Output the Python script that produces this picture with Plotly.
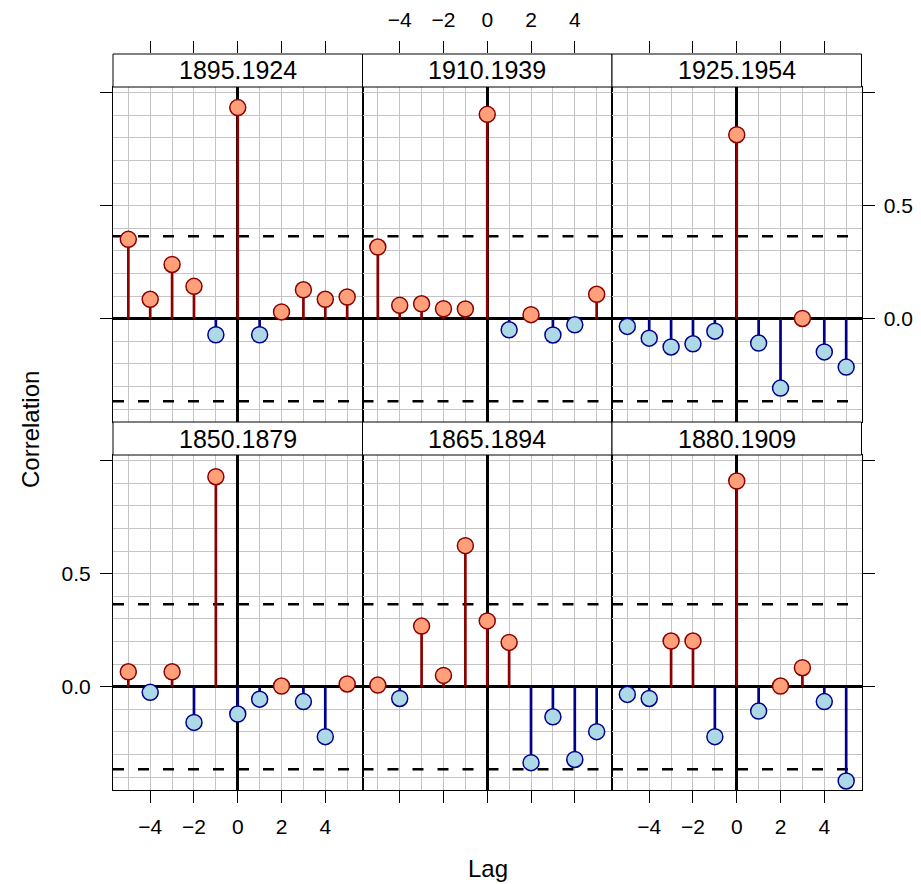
import plotly.graph_objects as go

# ---------------- data ----------------
lags = [-5, -4, -3, -2, -1, 0, 1, 2, 3, 4, 5]

panel_names = ["1850.1879", "1865.1894", "1880.1909",
               "1895.1924", "1910.1939", "1925.1954"]

acf_1850_1879 = [0.066, -0.025, 0.066, -0.158, 0.929, -0.121, -0.055, 0.003, -0.066, -0.221, 0.012]
acf_1865_1894 = [0.007, -0.052, 0.268, 0.050, 0.624, 0.291, 0.196, -0.336, -0.133, -0.322, -0.199]
acf_1880_1909 = [-0.034, -0.052, 0.202, 0.202, -0.221, 0.910, -0.108, 0.003, 0.084, -0.066, -0.417]
acf_1895_1924 = [0.351, 0.086, 0.240, 0.143, -0.071, 0.934, -0.071, 0.030, 0.128, 0.086, 0.096]
acf_1910_1939 = [0.317, 0.059, 0.066, 0.044, 0.043, 0.904, -0.049, 0.018, -0.072, -0.027, 0.108]
acf_1925_1954 = [-0.034, -0.086, -0.125, -0.111, -0.055, 0.814, -0.108, -0.307, 0.001, -0.147, -0.214]

panel_values = [acf_1850_1879, acf_1865_1894, acf_1880_1909,
                acf_1895_1924, acf_1910_1939, acf_1925_1954]

conf_limit = 0.365

x_tick_vals = [-4, -2, 0, 2, 4]
x_tick_text = ["\u22124", "\u22122", "0", "2", "4"]
y_tick_vals = [0.0, 0.5, 1.0]
y_tick_text = ["0.0", "0.5", ""]

x_range = [-5.7, 5.7]
y_range = [-0.457, 1.025]

# ---------------- styling / layout ----------------
W, H = 921, 884
FONT = "Liberation Sans, Arial, Helvetica, sans-serif"
TICK_FONT = 21
STRIP_FONT = 25
TITLE_FONT = 24
GRID_COL = "#C4C4C4"
POS_LINE, POS_FILL = "#8B0000", "#FFA07A"
NEG_LINE, NEG_FILL = "#00008B", "#ADD8E6"

col_px = [(113, 362.5), (362.5, 612), (612, 861.5)]
row_px = [(455, 790), (87, 422)]          # (top px, bottom px): bottom row, top row
strip_px = [(422, 455), (54, 87)]         # (top px, bottom px)


def px_x(v):
    return v / W


def px_y(v):
    return 1 - v / H


fig = go.Figure()
layout_axes = {}

for i, (name, vals) in enumerate(zip(panel_names, panel_values)):
    row = i // 3  # 0 bottom, 1 top
    col = i % 3
    ax = i + 1
    xref = "x" if ax == 1 else f"x{ax}"
    yref = "y" if ax == 1 else f"y{ax}"

    # dashed confidence lines
    for c in (conf_limit, -conf_limit):
        fig.add_trace(go.Scatter(
            x=x_range, y=[c, c], mode="lines",
            line=dict(color="black", width=2.6, dash="11px,14px"),
            xaxis=xref, yaxis=yref, hoverinfo="skip"))

    # stems
    for sign, lc in ((1, POS_LINE), (-1, NEG_LINE)):
        sx, sy = [], []
        for l, v in zip(lags, vals):
            if (v >= 0) == (sign == 1):
                sx += [l, l, None]
                sy += [0, v, None]
        fig.add_trace(go.Scatter(
            x=sx, y=sy, mode="lines",
            line=dict(color=lc, width=2.7),
            xaxis=xref, yaxis=yref, hoverinfo="skip"))

    # points
    fills = [POS_FILL if v >= 0 else NEG_FILL for v in vals]
    lines = [POS_LINE if v >= 0 else NEG_LINE for v in vals]
    fig.add_trace(go.Scatter(
        x=lags, y=vals, mode="markers",
        marker=dict(size=16, color=fills, line=dict(color=lines, width=1.5)),
        xaxis=xref, yaxis=yref))

    x0, x1 = col_px[col]
    y_top, y_bot = row_px[row]

    xa = dict(
        domain=[px_x(x0), px_x(x1)], range=x_range, anchor=yref,
        showline=True, mirror=True, linecolor="black", linewidth=1,
        tickmode="array", tickvals=x_tick_vals, ticktext=x_tick_text,
        ticks="outside" if row == 0 else "", ticklen=12, tickwidth=1, tickcolor="black",
        side="bottom",
        showticklabels=(row == 0 and col != 1),
        tickfont=dict(family=FONT, size=TICK_FONT, color="black"),
        ticklabelstandoff=6,
        showgrid=True, gridcolor=GRID_COL, gridwidth=1,
        minor=dict(tickmode="linear", tick0=0, dtick=1, showgrid=True,
                   gridcolor=GRID_COL, gridwidth=1, ticks=""),
        zeroline=True, zerolinecolor="black", zerolinewidth=2.5,
        fixedrange=True,
    )
    if col == 0:
        yside, yticks, ylabels = "left", "outside", (row == 0)
    elif col == 2:
        yside, yticks, ylabels = "right", "outside", (row == 1)
    else:
        yside, yticks, ylabels = "left", "", False
    ya = dict(
        domain=[px_y(y_bot), px_y(y_top)], range=y_range, anchor=xref,
        showline=True, mirror=True, linecolor="black", linewidth=1,
        tickmode="array", tickvals=y_tick_vals, ticktext=y_tick_text,
        ticks=yticks, ticklen=12, tickwidth=1, tickcolor="black",
        side=yside, showticklabels=ylabels,
        tickfont=dict(family=FONT, size=TICK_FONT, color="black"),
        ticklabelstandoff=5,
        showgrid=True, gridcolor=GRID_COL, gridwidth=1,
        minor=dict(tickmode="linear", tick0=0, dtick=0.1, showgrid=True,
                   gridcolor=GRID_COL, gridwidth=1, ticks=""),
        zeroline=True, zerolinecolor="black", zerolinewidth=2.5,
        fixedrange=True,
    )
    xkey = "xaxis" if ax == 1 else f"xaxis{ax}"
    ykey = "yaxis" if ax == 1 else f"yaxis{ax}"
    layout_axes[xkey] = xa
    layout_axes[ykey] = ya

    # top-row tick axis: a thin helper subplot sitting right above the strip
    if row == 1:
        tax = ax + 3
        strip_top = strip_px[1][0]
        fig.add_trace(go.Scatter(x=[None], y=[None], mode="markers",
                                 xaxis=f"x{tax}", yaxis=f"y{tax}", hoverinfo="skip"))
        layout_axes[f"xaxis{tax}"] = dict(
            domain=[px_x(x0), px_x(x1)], range=x_range, anchor=f"y{tax}",
            side="top", showline=False, showgrid=False, zeroline=False,
            tickmode="array", tickvals=x_tick_vals, ticktext=x_tick_text,
            ticks="outside", ticklen=12, tickwidth=1, tickcolor="black",
            showticklabels=(col == 1),
            tickfont=dict(family=FONT, size=TICK_FONT, color="black"),
            ticklabelstandoff=6, fixedrange=True,
        )
        layout_axes[f"yaxis{tax}"] = dict(
            domain=[px_y(strip_top + 1), px_y(strip_top)], anchor=f"x{tax}",
            visible=False, showgrid=False, zeroline=False, fixedrange=True,
        )

    # strip
    s_top, s_bot = strip_px[row]
    fig.add_shape(type="rect", xref="paper", yref="paper",
                  x0=px_x(x0), x1=px_x(x1), y0=px_y(s_bot), y1=px_y(s_top),
                  line=dict(color="black", width=1), fillcolor="white")
    fig.add_annotation(xref="paper", yref="paper",
                       x=px_x((x0 + x1) / 2), y=px_y((s_top + s_bot) / 2),
                       text=name, showarrow=False, xanchor="center", yanchor="middle",
                       font=dict(family=FONT, size=STRIP_FONT, color="black"))

fig.update_layout(layout_axes)

# axis titles
fig.add_annotation(xref="paper", yref="paper", x=px_x(487.5), y=px_y(868),
                   text="Lag", showarrow=False, xanchor="center", yanchor="middle",
                   font=dict(family=FONT, size=TITLE_FONT, color="black"))
fig.add_annotation(xref="paper", yref="paper", x=px_x(30), y=px_y(430),
                   text="Correlation", showarrow=False, textangle=-90,
                   xanchor="center", yanchor="middle",
                   font=dict(family=FONT, size=TITLE_FONT, color="black"))

fig.update_layout(
    width=W, height=H, margin=dict(l=0, r=0, t=0, b=0),
    paper_bgcolor="white", plot_bgcolor="white", showlegend=False,
)

fig.write_html("out.html", config={"displayModeBar": False},
               post_script="document.body.style.margin='0';document.body.style.overflow='hidden';")
